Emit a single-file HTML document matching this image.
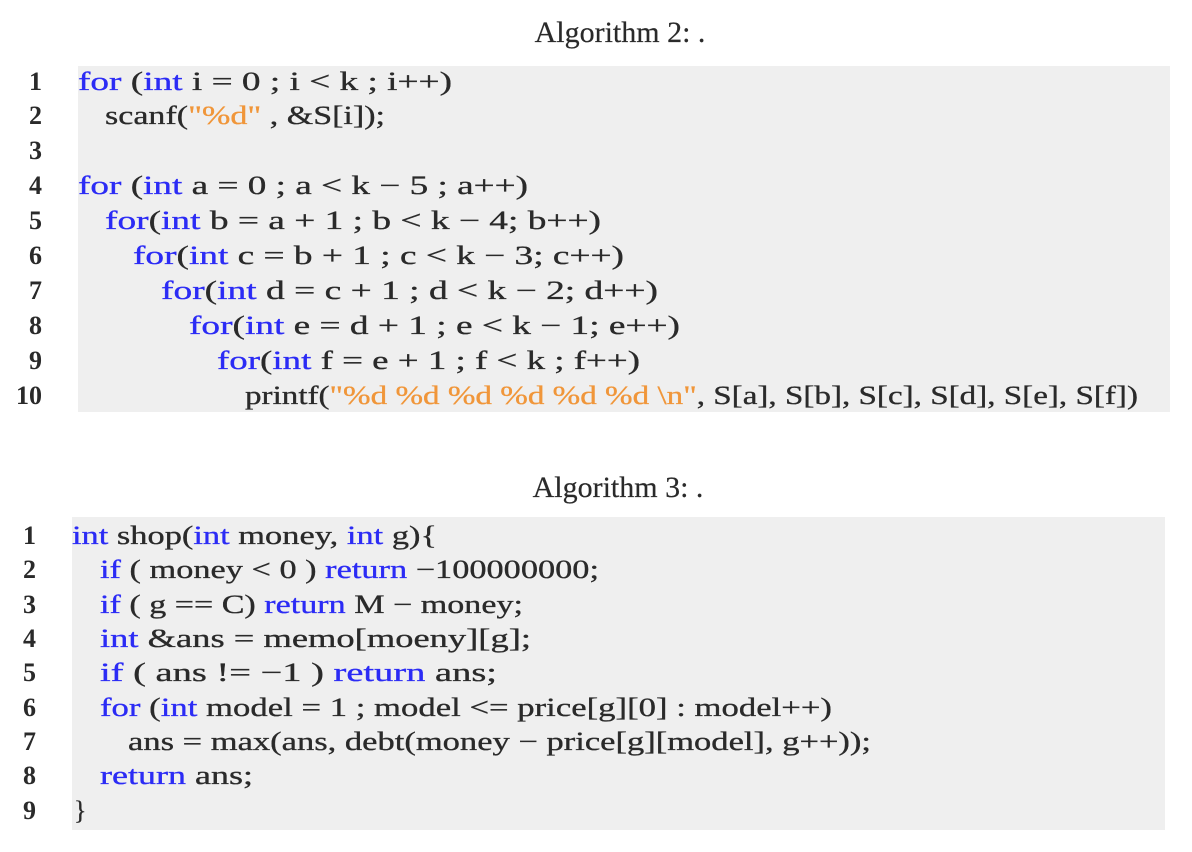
<!DOCTYPE html>
<html><head><meta charset="utf-8"><style>
html,body{margin:0;padding:0;background:#fff;}
svg{display:block;}
text{font-family:"Liberation Serif",serif;font-size:26px;fill:#2a2a2a;stroke:#2a2a2a;stroke-width:0.3;}
.b{fill:#2b2bf5;stroke:#2b2bf5;} .o{fill:#f0963a;stroke:#f0963a;}
.t{font-size:30px;stroke-width:0.2;}
.n{font-weight:bold;stroke-width:0;}
</style></head><body>
<svg width="1192" height="852" viewBox="0 0 1192 852">
<text class="t" x="620" y="42" text-anchor="middle">Algorithm 2: .</text>
<rect x="78" y="66" width="1092" height="346" fill="#efefef"/>
<g text-anchor="end">
<text class="n" x="42" y="90">1</text><text class="n" x="42" y="124">2</text><text class="n" x="42" y="159">3</text><text class="n" x="42" y="194">4</text><text class="n" x="42" y="229">5</text><text class="n" x="42" y="264">6</text><text class="n" x="42" y="299">7</text><text class="n" x="42" y="334">8</text><text class="n" x="42" y="369">9</text><text class="n" x="42" y="404">10</text>
</g>
<text x="78" y="90" textLength="374" lengthAdjust="spacingAndGlyphs"><tspan class="b">for</tspan> (<tspan class="b">int</tspan> i = 0 ; i &lt; k ; i++)</text>
<text x="105" y="124" textLength="280" lengthAdjust="spacingAndGlyphs">scanf(<tspan class="o">"%d"</tspan> , &amp;S[i]);</text>
<text x="78" y="194" textLength="450" lengthAdjust="spacingAndGlyphs"><tspan class="b">for</tspan> (<tspan class="b">int</tspan> a = 0 ; a &lt; k − 5 ; a++)</text>
<text x="105" y="229" textLength="496" lengthAdjust="spacingAndGlyphs"><tspan class="b">for</tspan>(<tspan class="b">int</tspan> b = a + 1 ; b &lt; k − 4; b++)</text>
<text x="133" y="264" textLength="491" lengthAdjust="spacingAndGlyphs"><tspan class="b">for</tspan>(<tspan class="b">int</tspan> c = b + 1 ; c &lt; k − 3; c++)</text>
<text x="161" y="299" textLength="497" lengthAdjust="spacingAndGlyphs"><tspan class="b">for</tspan>(<tspan class="b">int</tspan> d = c + 1 ; d &lt; k − 2; d++)</text>
<text x="189" y="334" textLength="491" lengthAdjust="spacingAndGlyphs"><tspan class="b">for</tspan>(<tspan class="b">int</tspan> e = d + 1 ; e &lt; k − 1; e++)</text>
<text x="217" y="369" textLength="423" lengthAdjust="spacingAndGlyphs"><tspan class="b">for</tspan>(<tspan class="b">int</tspan> f = e + 1 ; f &lt; k ; f++)</text>
<text x="245" y="404" textLength="893" lengthAdjust="spacingAndGlyphs">printf(<tspan class="o">"%d %d %d %d %d %d \n"</tspan>, S[a], S[b], S[c], S[d], S[e], S[f])</text>

<text class="t" x="618" y="497" text-anchor="middle">Algorithm 3: .</text>
<rect x="72" y="517" width="1093" height="313" fill="#efefef"/>
<g text-anchor="end">
<text class="n" x="36" y="544">1</text><text class="n" x="36" y="578">2</text><text class="n" x="36" y="613">3</text><text class="n" x="36" y="647">4</text><text class="n" x="36" y="681">5</text><text class="n" x="36" y="716">6</text><text class="n" x="36" y="750">7</text><text class="n" x="36" y="784">8</text><text class="n" x="36" y="819">9</text>
</g>
<text x="72" y="544" textLength="365" lengthAdjust="spacingAndGlyphs"><tspan class="b">int</tspan> shop(<tspan class="b">int</tspan> money, <tspan class="b">int</tspan> g){</text>
<text x="100" y="578" textLength="499" lengthAdjust="spacingAndGlyphs"><tspan class="b">if</tspan> ( money &lt; 0 ) <tspan class="b">return</tspan> −100000000;</text>
<text x="100" y="613" textLength="423" lengthAdjust="spacingAndGlyphs"><tspan class="b">if</tspan> ( g == C) <tspan class="b">return</tspan> M − money;</text>
<text x="100" y="647" textLength="431" lengthAdjust="spacingAndGlyphs"><tspan class="b">int</tspan> &amp;ans = memo[moeny][g];</text>
<text x="100" y="681" textLength="397" lengthAdjust="spacingAndGlyphs"><tspan class="b">if</tspan> ( ans != −1 ) <tspan class="b">return</tspan> ans;</text>
<text x="100" y="716" textLength="732" lengthAdjust="spacingAndGlyphs"><tspan class="b">for</tspan> (<tspan class="b">int</tspan> model = 1 ; model &lt;= price[g][0] : model++)</text>
<text x="128" y="750" textLength="743" lengthAdjust="spacingAndGlyphs">ans = max(ans, debt(money − price[g][model], g++));</text>
<text x="100" y="784" textLength="153" lengthAdjust="spacingAndGlyphs"><tspan class="b">return</tspan> ans;</text>
<text x="74" y="819">}</text>
</svg>
</body></html>
